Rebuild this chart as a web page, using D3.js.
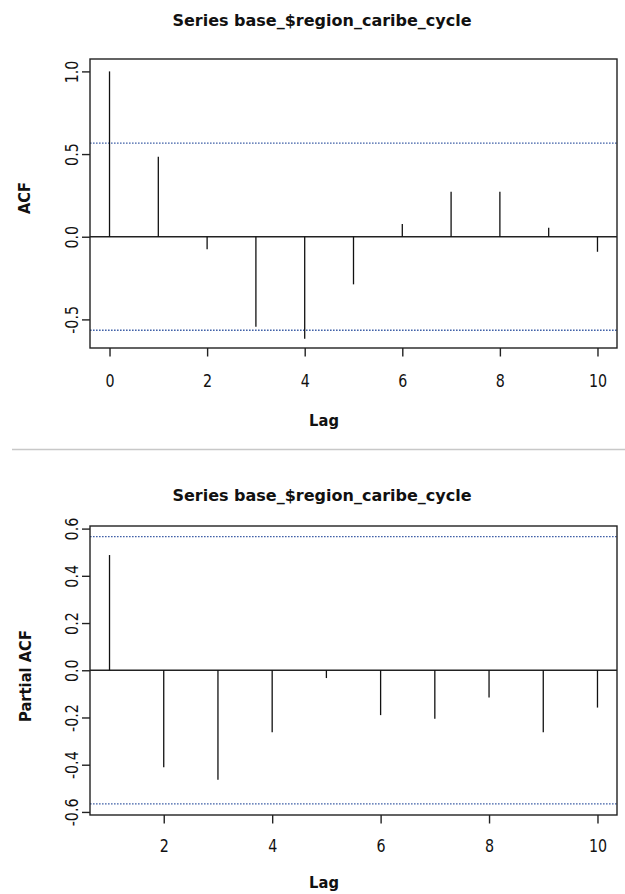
<!DOCTYPE html>
<html>
<head>
<meta charset="utf-8">
<script src="https://cdn.jsdelivr.net/npm/d3@7"></script>
<style>
  html, body { margin: 0; padding: 0; background: #fff; }
  svg { display: block; }
  text { font-family: "DejaVu Sans", sans-serif; fill: #111; }
</style>
</head>
<body>
<svg id="chart" width="625" height="894"></svg>
<script>
// ---- data ----
const titleText = "Series base_$region_caribe_cycle";
const acfLags = [0, 1, 2, 3, 4, 5, 6, 7, 8, 9, 10];
const acfValues = [1.0, 0.484, -0.076, -0.544, -0.617, -0.288, 0.077, 0.272, 0.272, 0.054, -0.091];
const pacfLags = [1, 2, 3, 4, 5, 6, 7, 8, 9, 10];
const pacfValues = [0.488, -0.411, -0.464, -0.262, -0.033, -0.190, -0.205, -0.115, -0.262, -0.158];
const ciBound = 0.566;
const acfXTicks = [0, 2, 4, 6, 8, 10];
const pacfXTicks = [2, 4, 6, 8, 10];
const acfYTicks = [-0.5, 0.0, 0.5, 1.0];
const pacfYTicks = [-0.6, -0.4, -0.2, 0.0, 0.2, 0.4, 0.6];
const acfXLim = [-0.4, 10.4];
const pacfXLim = [0.64, 10.36];
const acfYLim = [-0.673, 1.075];
const pacfYLim = [-0.613, 0.611];

const svg = d3.select("#chart");

function panel(cfg) {
  const g = svg.append("g");
  const x = d3.scaleLinear().domain(cfg.xLim).range([cfg.left, cfg.right]);
  const y = d3.scaleLinear().domain(cfg.yLim).range([cfg.bottom, cfg.top]);

  // confidence bounds
  [ciBound, -ciBound].forEach(c => {
    g.append("line")
      .attr("x1", cfg.left).attr("x2", cfg.right)
      .attr("y1", y(c)).attr("y2", y(c))
      .attr("stroke", "#4262a8").attr("stroke-width", 1.4)
      .attr("stroke-dasharray", "1.6,1.4");
  });

  // zero line
  g.append("line")
    .attr("x1", cfg.left).attr("x2", cfg.right)
    .attr("y1", y(0)).attr("y2", y(0))
    .attr("stroke", "#222").attr("stroke-width", 1.4);

  // spikes
  g.selectAll("line.spike").data(cfg.lags.map((l, i) => [l, cfg.values[i]]))
    .enter().append("line").attr("class", "spike")
    .attr("x1", d => x(d[0])).attr("x2", d => x(d[0]))
    .attr("y1", y(0)).attr("y2", d => y(d[1]))
    .attr("stroke", "#111").attr("stroke-width", 1.3);

  // box
  g.append("rect")
    .attr("x", cfg.left).attr("y", cfg.top)
    .attr("width", cfg.right - cfg.left).attr("height", cfg.bottom - cfg.top)
    .attr("fill", "none").attr("stroke", "#222").attr("stroke-width", 1.4);

  // x axis
  const xa = g.append("g").attr("transform", `translate(0,${cfg.bottom})`)
    .call(d3.axisBottom(x).tickValues(cfg.xTicks).tickSize(8.5).tickSizeOuter(0).tickFormat(d3.format("d")));
  xa.select(".domain").remove();
  xa.selectAll(".tick line").attr("stroke", "#222").attr("stroke-width", 1.4);
  xa.selectAll(".tick text")
    .attr("y", cfg.xLabelBase - cfg.bottom).attr("dy", null)
    .attr("transform", "scale(0.84,1)")
    .style("font-size", "17px").attr("fill", "#111");

  // y axis
  const ya = g.append("g").attr("transform", `translate(${cfg.left},0)`)
    .call(d3.axisLeft(y).tickValues(cfg.yTicks).tickSize(8).tickSizeOuter(0).tickFormat(v => v.toFixed(1)));
  ya.select(".domain").remove();
  ya.selectAll(".tick line").attr("stroke", "#222").attr("stroke-width", 1.4);
  ya.selectAll(".tick text")
    .attr("x", null).attr("dy", null)
    .attr("text-anchor", "middle")
    .attr("transform", `translate(${78 - cfg.left},0) rotate(-90) scale(0.84,1)`)
    .style("font-size", "17px").attr("fill", "#111");

  // title
  g.append("text").attr("x", 322).attr("y", cfg.titleBase)
    .attr("text-anchor", "middle").style("font-size", "16px").style("font-weight", "bold")
    .text(titleText);

  // x label
  g.append("text")
    .attr("transform", `translate(324,${cfg.lagBase}) scale(0.92,1)`)
    .attr("text-anchor", "middle").style("font-size", "16px").style("font-weight", "bold")
    .text("Lag");

  // y label
  g.append("text")
    .attr("transform", `translate(${cfg.yLabX},${cfg.yLabY}) rotate(-90) scale(0.92,1)`)
    .attr("text-anchor", "middle").style("font-size", "16px").style("font-weight", "bold")
    .text(cfg.yLabel);
}

panel({
  left: 90, right: 617, top: 59, bottom: 348,
  xLim: acfXLim, yLim: acfYLim, xTicks: acfXTicks, yTicks: acfYTicks,
  lags: acfLags, values: acfValues,
  xLabelBase: 387, titleBase: 26, lagBase: 426,
  yLabel: "ACF", yLabX: 30, yLabY: 198
});

// separator between the two figures
svg.append("line").attr("x1", 12).attr("x2", 625).attr("y1", 449.5).attr("y2", 449.5)
  .attr("stroke", "#c8c8c8").attr("stroke-width", 1.5);

panel({
  left: 90, right: 617, top: 526, bottom: 815,
  xLim: pacfXLim, yLim: pacfYLim, xTicks: pacfXTicks, yTicks: pacfYTicks,
  lags: pacfLags, values: pacfValues,
  xLabelBase: 852, titleBase: 501, lagBase: 888,
  yLabel: "Partial ACF", yLabX: 31, yLabY: 676
});
</script>
</body>
</html>
